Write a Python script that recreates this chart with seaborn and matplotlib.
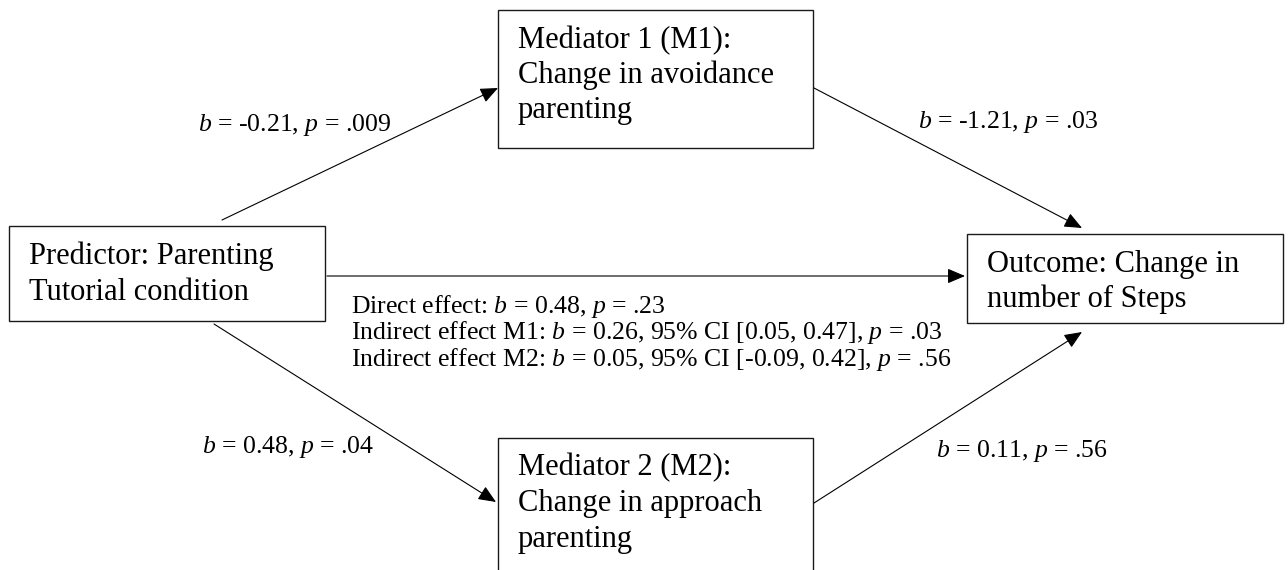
import matplotlib
matplotlib.use('Agg')
import matplotlib.pyplot as plt
import matplotlib.patches as mpatches
import seaborn as sns

# ---- data ----
node_keys = ['pred', 'm1', 'm2', 'out']
node_text = [
    'Predictor: Parenting\nTutorial condition',
    'Mediator 1 (M1):\nChange in avoidance\nparenting',
    'Mediator 2 (M2):\nChange in approach\nparenting',
    'Outcome: Change in\nnumber of Steps',
]

# path coefficients: pred->m1, m1->out, pred->m2, m2->out
path_from = ['pred', 'm1', 'pred', 'm2']
path_to = ['m1', 'out', 'm2', 'out']
path_b = [-0.21, -1.21, 0.48, 0.11]
path_p = ['.009', '.03', '.04', '.56']

direct_b = 0.48
direct_p = '.23'

ind_names = ['M1', 'M2']
ind_b = [0.26, 0.05]
ind_lo = [0.05, -0.09]
ind_hi = [0.47, 0.42]
ind_p = ['.03', '.56']

# ---- layout (pixels, origin top-left) ----
boxes = {
    'pred': (9, 226, 325, 321),
    'm1': (498, 10, 813, 148),
    'm2': (498, 438, 813, 640),
    'out': (967, 234, 1283, 323),
}
text_origin = {
    'pred': (29, 264, 36),
    'm1': (518, 48, 35),
    'm2': (518, 475, 36),
    'out': (987, 272, 35),
}
arrow_pts = [
    ((222, 220), (498, 88)),
    ((814, 88), (1082, 228)),
    ((214, 324), (496, 502)),
    ((814, 503), (1082, 332)),
]
direct_pts = ((327, 276), (965, 276))
label_pos = [(198, 131), (918, 128), (202, 453), (936, 457)]

sns.set_theme(style='white')
plt.rcParams['font.family'] = ['Liberation Serif', 'DejaVu Serif']
plt.rcParams['text.color'] = 'black'
plt.rcParams['mathtext.fontset'] = 'custom'
plt.rcParams['mathtext.rm'] = 'Liberation Serif'
plt.rcParams['mathtext.it'] = 'Liberation Serif:italic'

fig = plt.figure(figsize=(12.88, 5.70), dpi=100)
ax = fig.add_axes([0, 0, 1, 1])
ax.set_xlim(0, 1288)
ax.set_ylim(570, 0)
ax.axis('off')

# boxes with text
for key, txt in zip(node_keys, node_text):
    x0, y0, x1, y1 = boxes[key]
    ax.add_patch(mpatches.Rectangle((x0, y0), x1 - x0, y1 - y0,
                                    fill=False, edgecolor='#1a1a1a', lw=1.0))
    tx, ty, step = text_origin[key]
    for i, line in enumerate(txt.split('\n')):
        ax.text(tx, ty + i * step, line, fontsize=22, va='baseline',
                ha='left', color='black')

arrow_kw = dict(arrowstyle='-|>,head_length=0.54,head_width=0.23',
                mutation_scale=20, lw=0.8, color='black',
                shrinkA=0, shrinkB=0)

# mediation paths
for (start, tip), b, p, (lx, ly) in zip(arrow_pts, path_b, path_p, label_pos):
    ax.annotate('', xy=tip, xytext=start, arrowprops=arrow_kw)
    ax.text(lx, ly, f'$b$ = {b:.2f}, $p$ = {p}', fontsize=18.5,
            va='baseline', ha='left', color='black')

# direct path
ax.annotate('', xy=direct_pts[1], xytext=direct_pts[0], arrowprops=arrow_kw)

effect_lines = [f'Direct effect: $b$ = {direct_b:.2f}, $p$ = {direct_p}']
for name, b, lo, hi, p in zip(ind_names, ind_b, ind_lo, ind_hi, ind_p):
    effect_lines.append(
        f'Indirect effect {name}: $b$ = {b:.2f}, 95% CI [{lo:.2f}, {hi:.2f}], $p$ = {p}'
    )
for i, line in enumerate(effect_lines):
    ax.text(351, 313 + i * 26.5, line, fontsize=18.5, va='baseline',
            ha='left', color='black')

fig.savefig('out.png', dpi=100, facecolor='white')
